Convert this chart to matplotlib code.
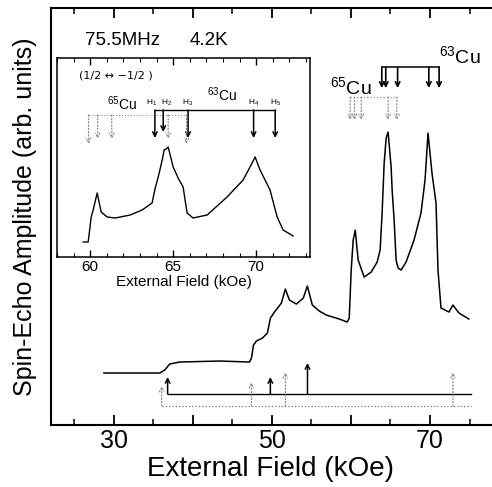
import numpy as np
import matplotlib.pyplot as plt
from matplotlib.ticker import MultipleLocator

plt.rcParams['font.family'] = ['Liberation Sans', 'DejaVu Sans']
plt.rcParams['mathtext.fontset'] = 'custom'
plt.rcParams['mathtext.rm'] = 'Liberation Sans'

# main spectrum (kOe, arb. units)
field = [28.74, 35.80, 36.44, 37.07, 38.33, 43.38, 47.16, 47.41, 47.67, 48.04,
         48.80, 49.43, 49.81, 50.32, 51.20, 51.70, 52.21, 53.09, 53.97, 54.48,
         55.11, 55.99, 56.88, 58.52, 59.53, 59.78, 60.03, 60.28, 60.54, 60.91,
         61.67, 62.56, 63.31, 63.69, 63.94, 64.20, 64.45, 64.70, 65.08, 65.21,
         65.46, 65.71, 65.96, 66.34, 66.97, 67.98, 68.86, 69.37, 69.75, 70.25,
         70.76, 71.01, 71.39, 72.40, 72.90, 73.66, 74.92]
amp = [52, 52, 55, 61, 63, 64, 63, 67, 80, 84,
       87, 92, 107, 113, 122, 136, 125, 121, 127, 139,
       120, 114, 110, 106, 103, 107, 155, 185, 195, 165,
       148, 153, 163, 175, 212, 262, 287, 293, 258, 235,
       205, 165, 157, 155, 163, 185, 212, 245, 292, 252,
       222, 155, 117, 113, 120, 112, 106]

# inset spectrum
field_in = [59.58, 59.88, 60.06, 60.18, 60.42, 60.66, 61.02, 61.51, 62.41, 63.13,
            63.73, 63.92, 64.10, 64.34, 64.46, 64.58, 64.70, 65.00, 65.30, 65.60,
            65.84, 66.20, 67.05, 68.25, 69.22, 69.76, 69.94, 70.24, 70.84, 71.27,
            71.63, 72.23]
amp_in = [15, 15, 40, 47, 64, 45, 40, 39, 42, 47,
          54, 69, 80, 97, 107, 108, 110, 90, 79, 70,
          44, 39, 42, 60, 77, 94, 100, 87, 67, 40,
          27, 21]

# resonance positions
cu63_pos = [63.9, 64.4, 65.9, 69.85, 71.15]
cu65_pos = [59.9, 60.45, 61.3, 64.7, 65.8]
h_labels = ['H$_1$', 'H$_2$', 'H$_3$', 'H$_4$', 'H$_5$']
h_shift = [-0.2, 0.2, 0, 0, 0]
low_solid = [36.8, 49.8, 54.5]
low_solid_top = [48, 48, 62]
low_dot = [36.05, 47.4, 51.7, 72.9]
low_dot_top = [39, 43, 53, 53]


def arrow(ax, x, y0, y1, dotted=False, lw=1.2):
    props = dict(arrowstyle='->', color='0.55' if dotted else 'black', lw=0.9 if dotted else lw,
                 linestyle=':' if dotted else '-', shrinkA=0, shrinkB=0,
                 mutation_scale=8)
    ax.annotate('', xy=(x, y1), xytext=(x, y0), arrowprops=props)


fig = plt.figure(figsize=(4.92, 4.87), dpi=100)
ax = fig.add_axes([0.1037, 0.1273, 0.894, 0.856])
ax.plot(field, amp, color='black', lw=1.1)
ax.set_xlim(22.05, 77.7)
ax.set_ylim(0, 417)
ax.xaxis.set_minor_locator(MultipleLocator(5))
ax.set_xticks([30, 40, 50, 60, 70])
ax.set_xticklabels(['30', '', '50', '', '70'])
ax.tick_params(axis='x', which='major', direction='in', length=7, width=1.3, top=True,
               labelsize=18, pad=3)
ax.tick_params(axis='x', which='minor', direction='in', length=4, width=1.1, top=True)
ax.set_yticks([])
for s in ['left', 'bottom', 'top']:
    ax.spines[s].set_linewidth(1.5)
ax.spines['right'].set_visible(False)
ax.set_xlabel('External Field (kOe)', fontsize=20, labelpad=2)
ax.set_ylabel('Spin-Echo Amplitude (arb. units)', fontsize=18, labelpad=10)

ax.text(26.3, 385, '75.5MHz', fontsize=13.5, va='center')
ax.text(39.6, 385, '4.2K', fontsize=13.5, va='center')

# top brackets
ax.plot([cu63_pos[0], cu63_pos[-1]], [358, 358], color='black', lw=1.1)
for p in cu63_pos:
    arrow(ax, p, 358, 337)
ax.plot([cu65_pos[0], cu65_pos[-1]], [328, 328], color='0.55', lw=0.9, ls=':')
for p in cu65_pos:
    arrow(ax, p, 328, 305, dotted=True)
ax.text(57.4, 337, '$^{65}$Cu', fontsize=14, va='center')
ax.text(71.1, 368, '$^{63}$Cu', fontsize=14, va='center')

# bottom brackets
ax.plot([low_solid[0], 75.2], [31, 31], color='black', lw=1.0)
for p, t in zip(low_solid, low_solid_top):
    arrow(ax, p, 31, t, lw=1.1)
ax.plot([low_dot[0], 75.2], [19, 19], color='0.45', lw=0.9, ls=':')
for p, t in zip(low_dot, low_dot_top):
    arrow(ax, p, 19, t, dotted=True)

# inset
ins = fig.add_axes([0.1159, 0.4723, 0.5142, 0.4086])
ins.plot(field_in, amp_in, color='black', lw=1.0)
ins.set_xlim(58.0, 73.25)
ins.set_ylim(0, 199)
ins.xaxis.set_major_locator(MultipleLocator(5))
ins.xaxis.set_minor_locator(MultipleLocator(1))
ins.tick_params(axis='x', which='major', direction='in', length=5, width=1.0, top=True,
                labelsize=11, pad=2)
ins.tick_params(axis='x', which='minor', direction='in', length=3, width=0.8, top=True)
ins.set_yticks([])
for s in ins.spines.values():
    s.set_linewidth(1.1)
ins.set_xlabel('External Field (kOe)', fontsize=11, labelpad=1)

ins.text(59.35, 182, '(1/2 \u2194 \u22121/2 )', fontsize=8, va='center',
         family=['DejaVu Sans'])
ins.plot([cu63_pos[0], cu63_pos[-1]], [147, 147], color='black', lw=1.0)
for p, lab, dx in zip(cu63_pos, h_labels, h_shift):
    arrow(ins, p, 147, 125 if lab == 'H$_2$' else 119, lw=1.1)
    ins.text(p + dx, 154, lab, fontsize=6, ha='center', va='center')
ins.plot([cu65_pos[0], cu65_pos[-1]], [142, 142], color='0.55', lw=0.8, ls=':')
for p in cu65_pos:
    arrow(ins, p, 142, 113 if p in (59.9, 65.8) else 118, dotted=True)
ins.text(61.0, 153, '$^{65}$Cu', fontsize=10, va='center')
ins.text(67.05, 162, '$^{63}$Cu', fontsize=10, va='center')

fig.savefig('out.png', dpi=100)
